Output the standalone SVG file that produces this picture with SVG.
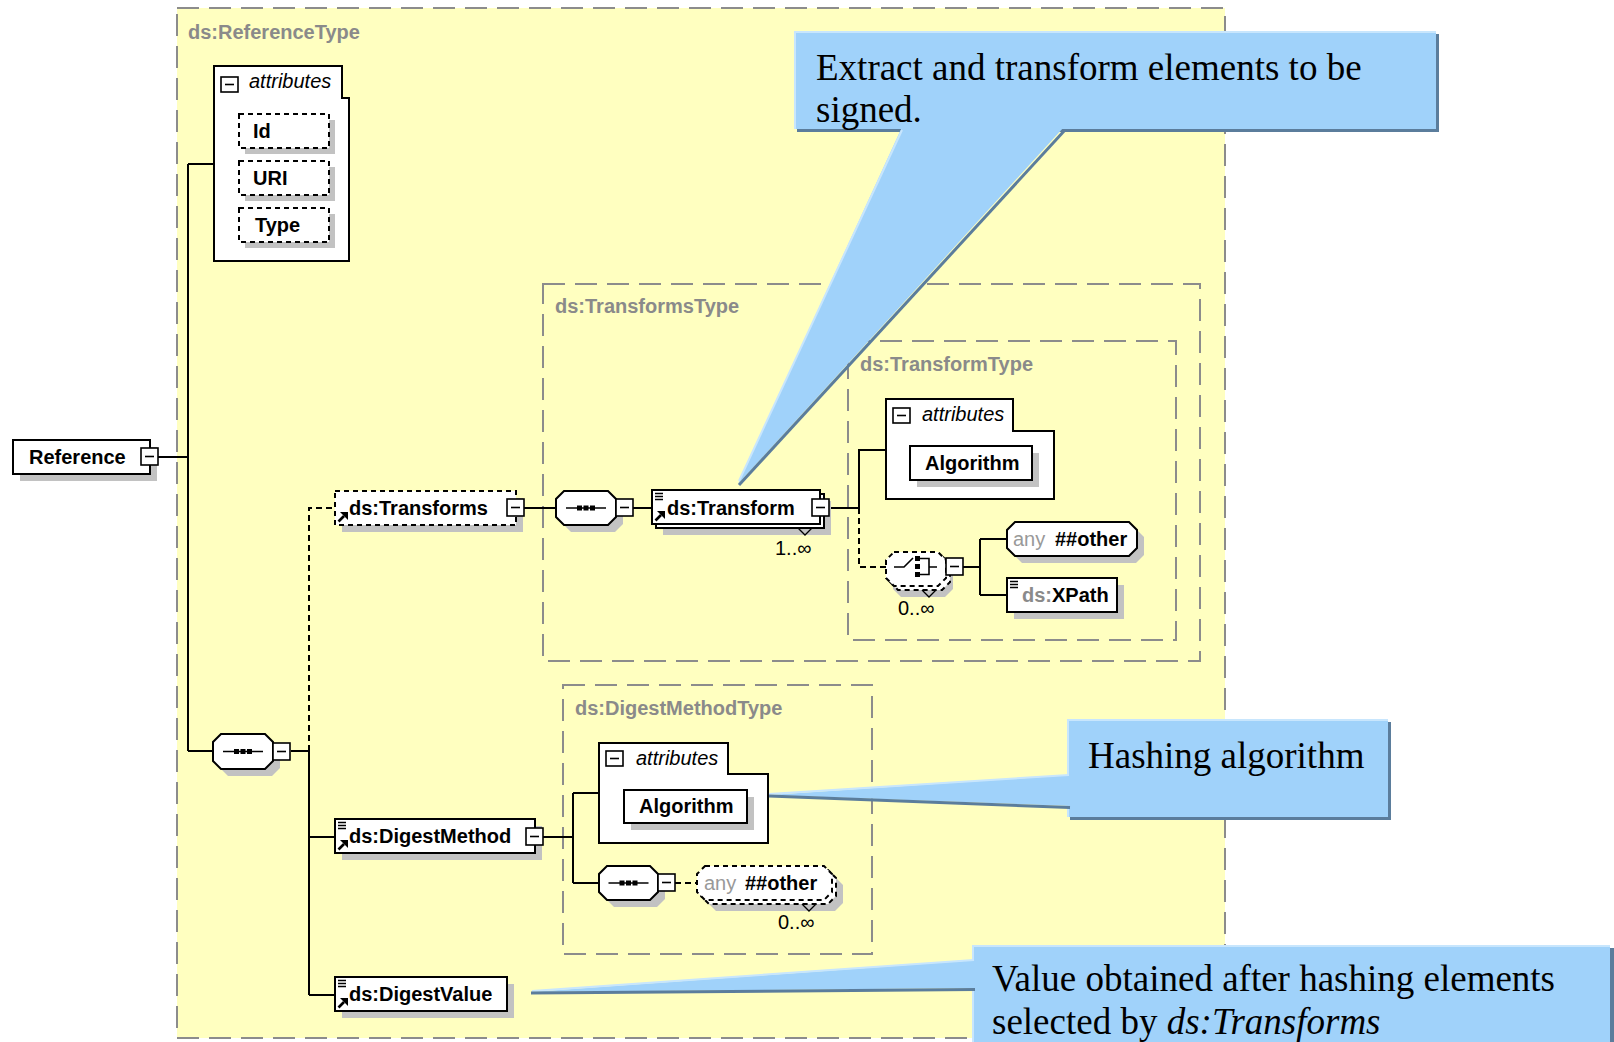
<svg xmlns="http://www.w3.org/2000/svg" xmlns:xlink="http://www.w3.org/1999/xlink" width="1614" height="1042" viewBox="0 0 1614 1042">
  <style>
    .type { fill: none; stroke: #8c8c8c; stroke-width: 2; stroke-dasharray: 22 10; }
    .typelbl { font: bold 20px "Liberation Sans", Arial, sans-serif; fill: #8a8a8a; }
    .box { fill: #fff; stroke: #000; stroke-width: 2; }
    .opt { fill: #fff; stroke: #000; stroke-width: 2; stroke-dasharray: 5 4; }
    .shadow { fill: #c2c2c2; stroke: none; }
    .lbl { font: bold 20px "Liberation Sans", Arial, sans-serif; fill: #000; }
    .ital { font: italic 20px "Liberation Sans", Arial, sans-serif; fill: #000; }
    .mult { font: 20px "Liberation Sans", Arial, sans-serif; fill: #000; }
    .gray { font-weight: normal; fill: #999; }
    .grayb { fill: #8a8a8a; }
    .minus { fill: #fff; stroke: #000; stroke-width: 1.6; }
    .wire { fill: none; stroke: #000; stroke-width: 2; }
    .dwire { fill: none; stroke: #000; stroke-width: 2; stroke-dasharray: 6 4; }
    .note { fill: #a0d2fa; }
    .noteshade { fill: #5b7d9c; }
    .notelite { fill: none; stroke: #c8e6fd; stroke-width: 2; }
    .notedark { fill: none; stroke: #5b7d9c; stroke-width: 3; }
    .notetxt { font: 37px "Liberation Serif", "Times New Roman", serif; fill: #000; }
  </style>
  <defs>
    <!-- collapse button: square with a minus bar -->
    <g id="minus">
      <rect class="minus" x="0" y="0" width="17" height="17"/>
      <path d="M4,8.5 H13" stroke="#000" stroke-width="1.6"/>
    </g>
    <!-- small header button of attribute groups -->
    <g id="minusSmall">
      <rect class="minus" x="0" y="0" width="17" height="15"/>
      <path d="M4,7.5 H13" stroke="#000" stroke-width="1.6"/>
    </g>
    <!-- simple-content marker (three bars) -->
    <g id="doc" stroke="#000" stroke-width="1.5">
      <path d="M3,3.5 H11 M3,6.5 H11 M3,9.5 H11"/>
    </g>
    <!-- reference marker (small arrow), placed at the box bottom-left -->
    <g id="ref">
      <path d="M3.5,-3.5 L9,-9" stroke="#000" stroke-width="2.6"/>
      <path d="M5,-13 H13 V-5 Z" fill="#000"/>
    </g>
    <!-- sequence compositor glyph -->
    <g id="seqGlyph">
      <path d="M-20,0 H20" stroke="#000" stroke-width="1.6"/>
      <rect x="-9" y="-2.5" width="5" height="5" fill="#000"/>
      <rect x="-2.5" y="-2.5" width="5" height="5" fill="#000"/>
      <rect x="4" y="-2.5" width="5" height="5" fill="#000"/>
    </g>
    <!-- multiplicity notch -->
    <path id="notch" d="M-7,0 L0,7 L7,0" fill="none" stroke="#000" stroke-width="1.3"/>
  </defs>

  <rect width="1614" height="1042" fill="#fff"/>

  <!-- ds:ReferenceType -->
  <g id="referenceType">
    <rect x="177" y="8" width="1048" height="1030" fill="#ffffc0"/>
    <rect class="type" x="177" y="8" width="1048" height="1030"/>
    <text class="typelbl" x="188" y="39">ds:ReferenceType</text>
  </g>

  <!-- ds:TransformsType -->
  <g id="transformsType">
    <rect class="type" x="543" y="284" width="657" height="377"/>
    <text class="typelbl" x="555" y="313">ds:TransformsType</text>
  </g>

  <!-- ds:TransformType -->
  <g id="transformType">
    <rect class="type" x="848" y="341" width="328" height="299"/>
    <text class="typelbl" x="860" y="371">ds:TransformType</text>
  </g>

  <!-- ds:DigestMethodType -->
  <g id="digestMethodType">
    <rect class="type" x="563" y="685" width="309" height="269"/>
    <text class="typelbl" x="575" y="715">ds:DigestMethodType</text>
  </g>

  <!-- connectors -->
  <g id="connectors">
    <path class="wire" d="M158,457 H188 M188,164 V751 M188,164 H214 M188,751 H213 M291,751 H309 M309,751 V995 M309,837 H335 M309,995 H335"/>
    <path class="wire" d="M524,508 H556 M633,508 H652 M829,508 H859 V450 H886"/>
    <path class="wire" d="M963,567 H980 M980,539 V595 M980,539 H1007 M980,595 H1007"/>
    <path class="wire" d="M543,837 H573 M573,793 V883 M573,793 H599 M573,883 H599"/>
    <path class="dwire" d="M309,751 V508 H335 M859,508 V567 H886 M675,883 H697"/>
  </g>

  <!-- Reference -->
  <g id="reference">
    <rect class="shadow" x="20" y="447" width="137" height="34"/>
    <rect class="box" x="13" y="440" width="137" height="34"/>
    <text class="lbl" x="29" y="464">Reference</text>
    <use xlink:href="#minus" x="141" y="448"/>
  </g>

  <!-- attributes of Reference -->
  <g id="refAttributes">
    <path class="box" d="M214,66 H342 V98 H349 V261 H214 Z"/>
    <use xlink:href="#minusSmall" x="221" y="77"/>
    <text class="ital" x="249" y="88">attributes</text>
  </g>
  <g id="attrId">
    <rect class="shadow" x="245" y="120" width="90" height="34"/>
    <rect class="opt" x="239" y="114" width="90" height="34"/>
    <text class="lbl" x="253" y="138">Id</text>
  </g>
  <g id="attrURI">
    <rect class="shadow" x="245" y="167" width="90" height="34"/>
    <rect class="opt" x="239" y="161" width="90" height="34"/>
    <text class="lbl" x="253" y="185">URI</text>
  </g>
  <g id="attrType">
    <rect class="shadow" x="245" y="214" width="90" height="34"/>
    <rect class="opt" x="239" y="208" width="90" height="34"/>
    <text class="lbl" x="255" y="232">Type</text>
  </g>

  <!-- main sequence -->
  <g id="sequenceMain">
    <path class="shadow" d="M228,741 H272 L280,749 V768 L272,776 H228 L220,768 V749 Z"/>
    <path class="box" d="M221,734 H265 L273,742 V761 L265,769 H221 L213,761 V742 Z"/>
    <use xlink:href="#seqGlyph" x="243" y="751.5"/>
    <use xlink:href="#minus" x="273" y="743"/>
  </g>

  <!-- ds:Transforms -->
  <g id="transforms">
    <rect class="shadow" x="342" y="498" width="181" height="34"/>
    <rect class="opt" x="335" y="491" width="181" height="34"/>
    <use xlink:href="#ref" x="335" y="525"/>
    <text class="lbl" x="349" y="515">ds:Transforms</text>
    <use xlink:href="#minus" x="507" y="499"/>
  </g>

  <!-- sequence inside ds:TransformsType -->
  <g id="sequenceTransforms">
    <path class="shadow" d="M571,498 H615 L623,506 V524 L615,532 H571 L563,524 V506 Z"/>
    <path class="box" d="M564,491 H608 L616,499 V517 L608,525 H564 L556,517 V499 Z"/>
    <use xlink:href="#seqGlyph" x="586" y="508"/>
    <use xlink:href="#minus" x="616" y="499"/>
  </g>

  <!-- ds:Transform (1..unbounded) -->
  <g id="transform">
    <rect class="shadow" x="663" y="501" width="168" height="34"/>
    <rect class="box" x="656" y="494" width="168" height="34"/>
    <rect class="box" x="652" y="490" width="168" height="34"/>
    <use xlink:href="#doc" x="652" y="490"/>
    <use xlink:href="#ref" x="652" y="524"/>
    <text class="lbl" x="667" y="515">ds:Transform</text>
    <use xlink:href="#minus" x="812" y="499"/>
    <use xlink:href="#notch" x="805" y="528"/>
    <text class="mult" x="775" y="555">1..∞</text>
  </g>

  <!-- attributes of ds:Transform -->
  <g id="transformAttributes">
    <path class="box" d="M886,399 H1013 V431 H1054 V499 H886 Z"/>
    <use xlink:href="#minusSmall" x="893" y="408"/>
    <text class="ital" x="922" y="421">attributes</text>
  </g>
  <g id="transformAlgorithm">
    <rect class="shadow" x="917" y="453" width="122" height="34"/>
    <rect class="box" x="910" y="446" width="122" height="34"/>
    <text class="lbl" x="925" y="470">Algorithm</text>
  </g>

  <!-- choice (0..unbounded) -->
  <g id="choice">
    <path class="shadow" d="M901,563 H945 L953,571 V589 L945,597 H901 L893,589 V571 Z"/>
    <path class="opt" d="M898,556 H942 L950,564 V582 L942,590 H898 L890,582 V564 Z"/>
    <path class="opt" d="M894,552 H938 L946,560 V578 L938,586 H894 L886,578 V560 Z"/>
    <path d="M894,567 H904 L913,558" fill="none" stroke="#000" stroke-width="1.6"/>
    <rect x="915" y="556" width="5" height="5" fill="#000"/>
    <rect x="915" y="564" width="5" height="5" fill="#000"/>
    <rect x="915" y="572" width="5" height="5" fill="#000"/>
    <path d="M920,558.5 H929 V574.5 H920 M929,567 H937" fill="none" stroke="#000" stroke-width="1.6"/>
    <use xlink:href="#minus" x="946" y="558"/>
    <use xlink:href="#notch" x="929" y="590"/>
    <text class="mult" x="898" y="615">0..∞</text>
  </g>

  <!-- any ##other -->
  <g id="anyOther1">
    <path class="shadow" d="M1022,529 H1136 L1144,537 V555 L1136,563 H1022 L1014,555 V537 Z"/>
    <path class="box" d="M1015,522 H1129 L1137,530 V548 L1129,556 H1015 L1007,548 V530 Z"/>
    <text class="lbl" x="1013" y="546"><tspan class="gray">any</tspan><tspan x="1055">##other</tspan></text>
  </g>

  <!-- ds:XPath -->
  <g id="xpath">
    <rect class="shadow" x="1014" y="585" width="110" height="34"/>
    <rect class="box" x="1007" y="578" width="110" height="34"/>
    <use xlink:href="#doc" x="1007" y="578"/>
    <text class="lbl" x="1022" y="602"><tspan class="grayb">ds:</tspan>XPath</text>
  </g>

  <!-- ds:DigestMethod -->
  <g id="digestMethod">
    <rect class="shadow" x="342" y="826" width="200" height="34"/>
    <rect class="box" x="335" y="819" width="200" height="34"/>
    <use xlink:href="#doc" x="335" y="819"/>
    <use xlink:href="#ref" x="335" y="853"/>
    <text class="lbl" x="349" y="843">ds:DigestMethod</text>
    <use xlink:href="#minus" x="526" y="828"/>
  </g>

  <!-- attributes of ds:DigestMethod -->
  <g id="digestAttributes">
    <path class="box" d="M599,743 H728 V774 H768 V843 H599 Z"/>
    <use xlink:href="#minusSmall" x="606" y="751"/>
    <text class="ital" x="636" y="765">attributes</text>
  </g>
  <g id="digestAlgorithm">
    <rect class="shadow" x="631" y="797" width="123" height="33"/>
    <rect class="box" x="624" y="790" width="123" height="33"/>
    <text class="lbl" x="639" y="813">Algorithm</text>
  </g>

  <!-- sequence inside ds:DigestMethodType -->
  <g id="sequenceDigest">
    <path class="shadow" d="M614,873 H657 L665,881 V899 L657,907 H614 L606,899 V881 Z"/>
    <path class="box" d="M607,866 H650 L658,874 V892 L650,900 H607 L599,892 V874 Z"/>
    <use xlink:href="#seqGlyph" x="628.5" y="883"/>
    <use xlink:href="#minus" x="658" y="874"/>
  </g>

  <!-- any ##other (0..unbounded) -->
  <g id="anyOther2">
    <path class="shadow" d="M716,877 H835 L843,885 V903 L835,911 H716 L708,903 V885 Z"/>
    <path class="opt" d="M709,870 H828 L836,878 V896 L828,904 H709 L701,896 V878 Z"/>
    <path class="opt" d="M705,866 H824 L832,874 V892 L824,900 H705 L697,892 V874 Z"/>
    <text class="lbl" x="704" y="890"><tspan class="gray">any</tspan><tspan x="745">##other</tspan></text>
    <use xlink:href="#notch" x="809" y="904"/>
    <text class="mult" x="778" y="929">0..∞</text>
  </g>

  <!-- ds:DigestValue -->
  <g id="digestValue">
    <rect class="shadow" x="342" y="984" width="172" height="34"/>
    <rect class="box" x="335" y="977" width="172" height="34"/>
    <use xlink:href="#doc" x="335" y="977"/>
    <use xlink:href="#ref" x="335" y="1011"/>
    <text class="lbl" x="349" y="1001">ds:DigestValue</text>
  </g>

  <!-- callout: transforms -->
  <g id="noteTransforms">
    <rect class="noteshade" x="797" y="34" width="642" height="98"/>
    <rect class="note" x="794" y="31" width="642" height="98"/>
    <path class="notelite" d="M795,129 V32 H1436"/>
    <path class="note" d="M902,127 H1064 L738,484 Z"/>
    <path class="notelite" d="M902,130 L739,481"/>
    <path class="notedark" d="M1065,130 L739,485"/>
    <text class="notetxt" x="816" y="80">Extract and transform elements to be</text>
    <text class="notetxt" x="816" y="122">signed.</text>
  </g>

  <!-- callout: digest method -->
  <g id="noteDigestMethod">
    <rect class="noteshade" x="1070" y="722" width="321" height="98"/>
    <rect class="note" x="1067" y="719" width="321" height="98"/>
    <path class="notelite" d="M1068,817 V720 H1388"/>
    <path class="note" d="M1072,775 V806 L768,795 Z"/>
    <path class="notelite" d="M1069,775 L769,794"/>
    <path class="notedark" d="M1070,807.5 L769,796"/>
    <text class="notetxt" x="1088" y="768">Hashing algorithm</text>
  </g>

  <!-- callout: digest value -->
  <g id="noteDigestValue">
    <rect class="noteshade" x="975" y="948" width="639" height="100"/>
    <rect class="note" x="972" y="945" width="638" height="100"/>
    <path class="notelite" d="M973,1045 V946 H1610"/>
    <path class="note" d="M977,960 V988 L530,992 Z"/>
    <path class="notelite" d="M974,960 L532,991"/>
    <path class="notedark" d="M975,989.5 L531,993"/>
    <text class="notetxt" x="992" y="991">Value obtained after hashing elements</text>
    <text class="notetxt" x="992" y="1034">selected by <tspan font-style="italic">ds:Transforms</tspan></text>
  </g>
</svg>
